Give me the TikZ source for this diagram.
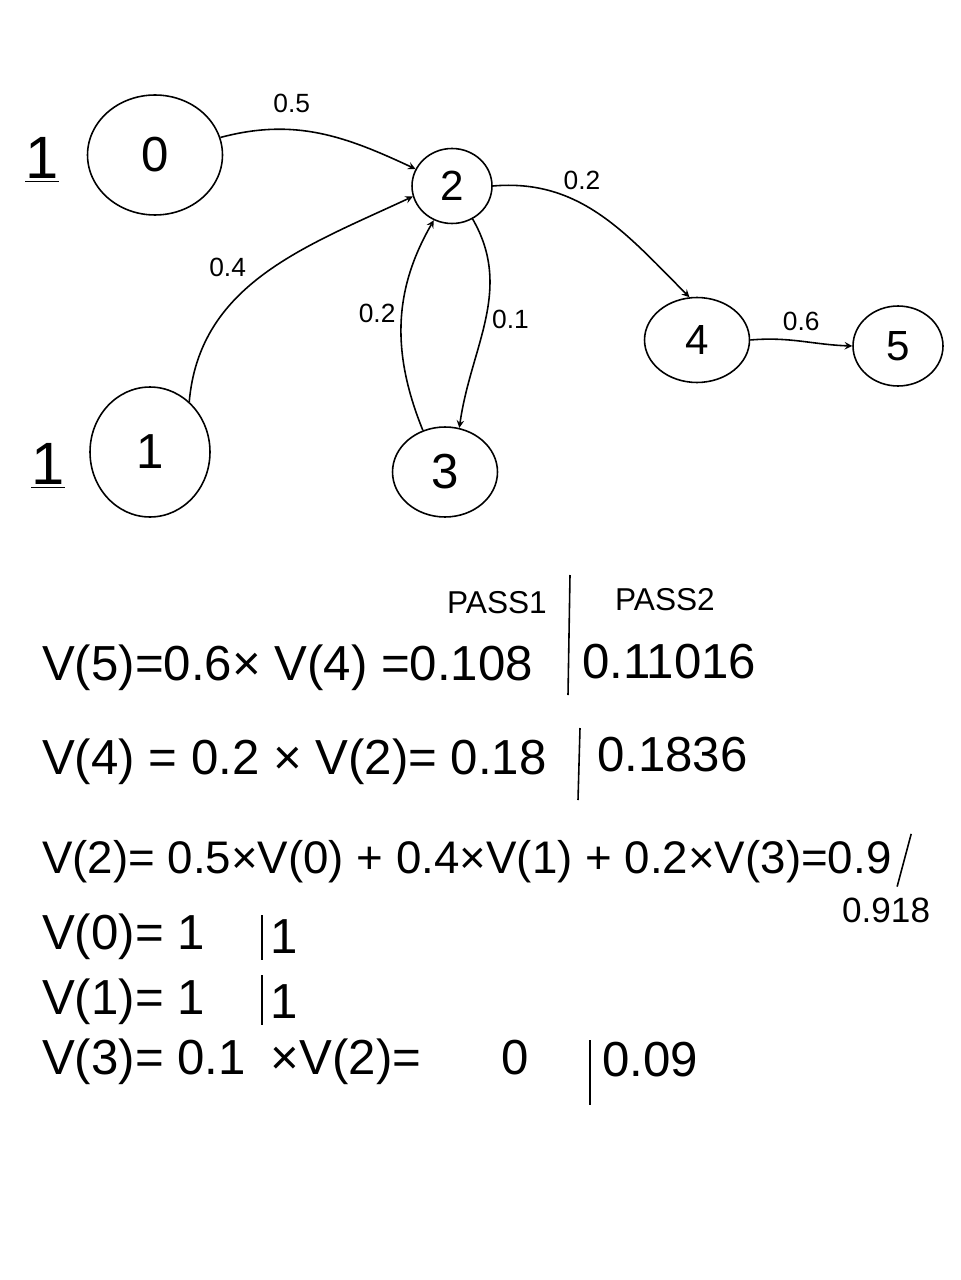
\documentclass[tikz,border=0pt]{standalone}
\usepackage{fontspec}
\setmainfont{Liberation Sans}
\usepackage{tikz}
\usetikzlibrary{shapes.geometric, arrows}
\tikzstyle{state} = [ellipse, minimum width=2cm, minimum height=1.6cm, text centered, draw=black, line width=0.9pt, font=\fontsize{28}{32}\selectfont]
\tikzstyle{value} = [font=\fontsize{34}{38}\selectfont]
\tikzstyle{weight} = [font=\fontsize{15}{18}\selectfont]
\tikzstyle{arrow} = [line width=0.9pt,->,>=stealth]
\tikzstyle{row} = [anchor=west, inner sep=1pt, font=\fontsize{28}{32}\selectfont]
\tikzstyle{head} = [font=\fontsize{18}{22}\selectfont]
\tikzstyle{sep} = [line width=0.9pt]

\begin{document}
\begin{tikzpicture}[x=0.02cm, y=-0.02cm]
        \useasboundingbox (0,0) rectangle (960,1280);

        \node (st0) [state, minimum width=2.7cm, minimum height=2.4cm] at (155,155) {0};
        \node (st2) [state, minimum width=1.6cm, minimum height=1.5cm, font=\fontsize{24}{28}\selectfont] at (452,186) {2};
        \node (st1) [state, minimum width=2.4cm, minimum height=2.6cm] at (150,452) {1};
        \node (st3) [state, minimum width=2.1cm, minimum height=1.8cm] at (445,472) {3};
        \node (st4) [state, minimum width=2.1cm, minimum height=1.7cm, font=\fontsize{24}{28}\selectfont] at (697,340) {4};
        \node (st5) [state, minimum width=1.8cm, minimum height=1.6cm, font=\fontsize{24}{28}\selectfont] at (898,346) {5};
        \node (val0) [value] at (42,160) {\underline{1}};
        \node (val1) [value] at (48,466) {\underline{1}};

        \draw [arrow] (st0.15) to[out=15, in=155] node[weight, above, pos=0.35, yshift=6pt] {0.5} (st2.155);
        \draw [arrow] (st1.52) to[out=85, in=205] node[weight, above left, pos=0.45] {0.4} (st2.195);
        \draw [arrow] (st3.118) to[out=112, in=-120] node[weight, left, pos=0.55] {0.2} (st2.-118);
        \draw [arrow] (st2.-58) to[out=-60, in=82] node[weight, right, pos=0.5] {0.1} (st3.72);
        \draw [arrow] (st2.east) to[out=5, in=135] node[weight, above, pos=0.4, yshift=4pt] {0.2} (st4.100);
        \draw [arrow] (st4.east) to[out=5, in=178] node[weight, above, yshift=2pt] {0.6} (st5.west);

        \node (pass1) [head] at (497,603) {PASS1};
        \node (pass2) [head] at (665,600) {PASS2};
        \node (eq5) [row] at (40,668) {V(5)=0.6× V(4) =0.108};
        \node (res5) [row] at (580,662) {0.11016};
        \node (eq4) [row] at (40,762) {V(4) = 0.2 × V(2)= 0.18};
        \node (res4) [row] at (595,755) {0.1836};
        \node (eq2) [row, font=\fontsize{26}{30}\selectfont] at (40,862) {V(2)= 0.5×V(0) + 0.4×V(1) + 0.2×V(3)=0.9};
        \node (res2) [row, font=\fontsize{20}{24}\selectfont] at (840,910) {0.918};
        \node (eq0) [row] at (40,937) {V(0)= 1};
        \node (res0) [row] at (268,937) {1};
        \node (eq1) [row] at (40,1002) {V(1)= 1};
        \node (res1) [row] at (268,1002) {1};
        \node (eq3) [row] at (40,1062) {V(3)= 0.1\hspace{0.5cm}×V(2)=\hspace{1.6cm}0};
        \node (res3) [row] at (600,1060) {0.09};

        \draw [sep] (570,575) -- (568,695);
        \draw [sep] (580,728) -- (578,800);
        \draw [sep] (eq2.east) ++(2pt,-14pt) -- ++(8pt,30pt);
        \draw [sep] (262,915) -- (262,960);
        \draw [sep] (262,975) -- (262,1025);
        \draw [sep] (590,1040) -- (590,1105);
\end{tikzpicture}
\end{document}
